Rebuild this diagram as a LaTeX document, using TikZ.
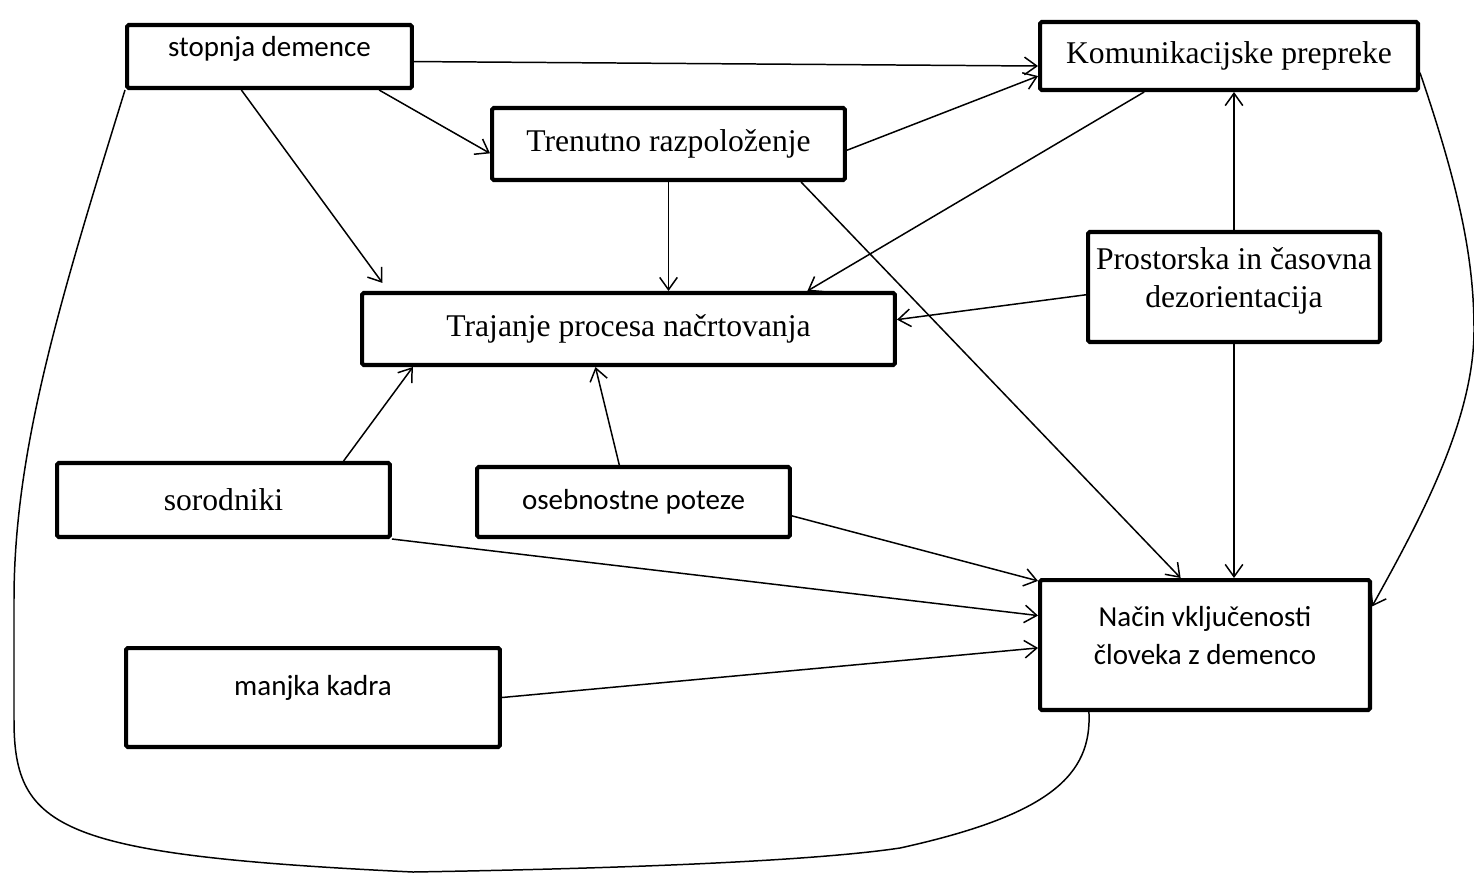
\documentclass[tikz,border=0pt]{standalone}
\usepackage{fontspec}
\newfontfamily\timesfont{Liberation Serif}
\newfontfamily\calfont{Carlito}
\usetikzlibrary{arrows.meta}
\newcommand{\lift}[1]{\rule[-#1]{0pt}{#1}}

\begin{document}
\begin{tikzpicture}[x=0.02cm,y=-0.02cm,line width=0.85pt,
    >={Straight Barb[length=7pt,width=10pt]},
    box/.style={draw=black,line width=2.3pt,rounded corners=1pt,align=center,inner sep=0pt},
    tbox/.style={box,font=\timesfont\fontsize{18}{22}\selectfont},
    cbox/.style={box,font=\calfont\fontsize{16.5}{22}\selectfont}]
			\useasboundingbox (0,0) rectangle (1474,873);

			\node[cbox,minimum width=5.7cm,minimum height=1.26cm] (dem) at (269.5,56.5) {stopnja demence\lift{12pt}};
			\node[tbox,minimum width=7.56cm,minimum height=1.36cm] (kom) at (1229,56) {Komunikacijske prepreke};
			\node[tbox,minimum width=7.06cm,minimum height=1.44cm] (tren) at (668.5,144) {Trenutno razpoloženje};
			\node[tbox,minimum width=5.84cm,minimum height=2.2cm] (pros) at (1234,287) {Prostorska in časovna\\dezorientacija\lift{11pt}};
			\node[tbox,minimum width=10.66cm,minimum height=1.44cm] (traj) at (628.5,329) {Trajanje procesa načrtovanja};
			\node[tbox,minimum width=6.66cm,minimum height=1.48cm] (sorod) at (223.5,500) {sorodniki};
			\node[cbox,minimum width=6.26cm,minimum height=1.4cm] (oseb) at (633.5,502) {osebnostne poteze};
			\node[cbox,minimum width=6.6cm,minimum height=2.6cm] (nacin) at (1205,645) {Način vključenosti\\človeka z demenco\lift{11pt}};
			\node[cbox,minimum width=7.48cm,minimum height=1.98cm] (kader) at (313,697.5) {manjka kadra\lift{14pt}};

			\draw[->] (dem.-2) -- (kom.183);
			\draw[->] (dem.-17) -- (tren.183);
			\draw[->,shorten >=0.2cm] (dem.-130) -- (traj.171);
			\draw[->] (tren.-2) -- (kom.186);
			\draw[->] (kom.203) -- (traj.12);
			\draw[->] (tren.south) -- (tren.south |- traj.north);
			\draw[->] (tren.-16) -- (nacin.110);
			\draw[->] (pros.183) -- (traj.2);
			\draw[->] (pros.north) -- (pros.north |- kom.south);
			\draw[->] (pros.south) -- (pros.south |- nacin.north);
			\draw[->] (sorod.18) -- (traj.190);
			\draw[->] (oseb.111) -- (traj.229);
			\draw[->] (oseb.-5) -- (nacin.159);
			\draw[->] (sorod.south east) -- (nacin.170);
			\draw[->] (kader.east) -- (nacin.181);

			\draw (dem.south west) .. controls (60,300) and (14,450) .. (14,600) -- (14,720)
				.. controls (14,830) and (60,855) .. (413,872) .. controls (650,868) and (820,860) .. (900,848)
				.. controls (1050,815) and (1092,775) .. (nacin.210);
			\draw[->] (kom.-5) .. controls (1460,190) and (1474,260) .. (1474,330)
				.. controls (1474,420) and (1420,520) .. (nacin.13);
		\end{tikzpicture}
\end{document}
